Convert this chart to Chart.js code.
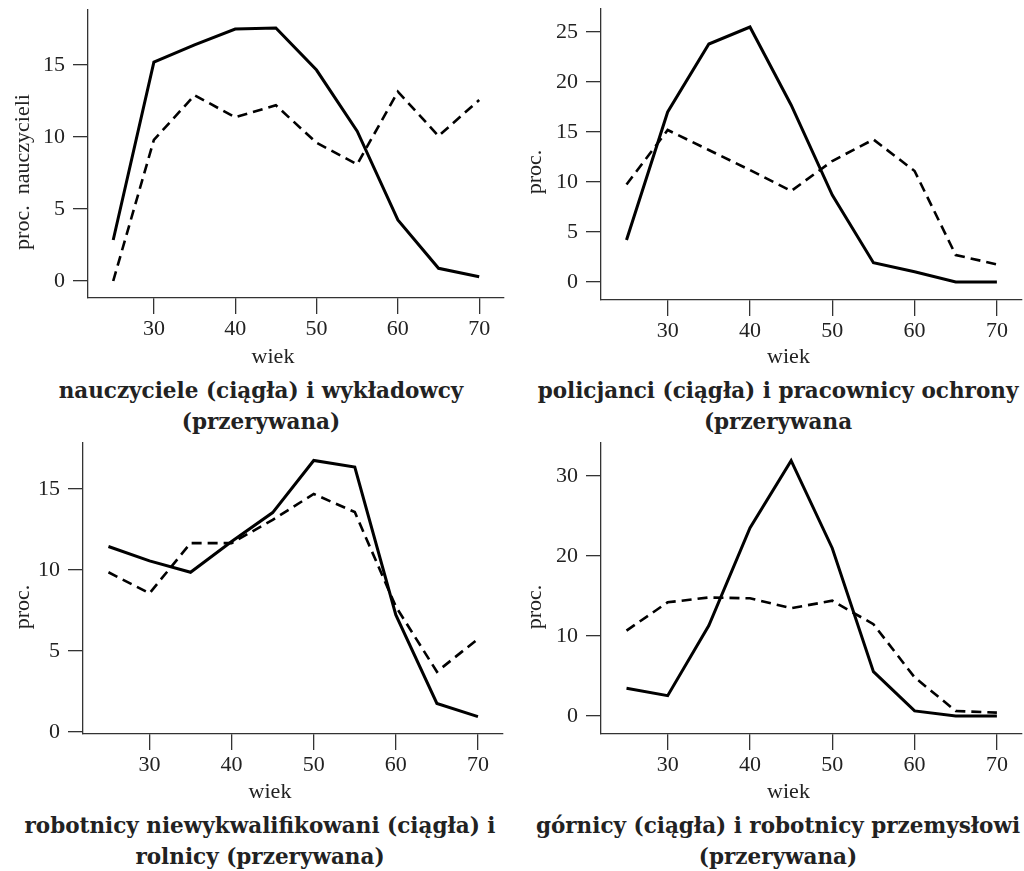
<!DOCTYPE html>
<html lang="pl">
  <head>
    <meta charset="UTF-8" />
    <title>Wiek w zawodach</title>
    <style>
      body { margin: 0; background: #fff; overflow: hidden; width: 1024px; height: 871px; }
      .panel { position: absolute; width: 512px; height: 435px; }
      .panel canvas { position: absolute; left: 0; top: 0; }
      .tytul {
        position: absolute; width: 512px; white-space: nowrap; text-align: center;
        font-family: "DejaVu Serif"; font-weight: bold; font-size: 21.5px; line-height: 31px; color: #222;
      }
    </style>
  </head>
  <body>
    <div class="panel" style="left:0;top:0">
      <canvas id="c1" width="512" height="370"></canvas>
      <div class="tytul" style="left:5px;top:375px">nauczyciele (ciągła) i wykładowcy<br>(przerywana)</div>
    </div>
    <div class="panel" style="left:512px;top:0">
      <canvas id="c2" width="512" height="370"></canvas>
      <div class="tytul" style="left:10px;top:375px">policjanci (ciągła) i pracownicy ochrony<br>(przerywana</div>
    </div>
    <div class="panel" style="left:0;top:435px">
      <canvas id="c3" width="512" height="370"></canvas>
      <div class="tytul" style="left:4px;top:375px">robotnicy niewykwalifikowani (ciągła) i<br>rolnicy (przerywana)</div>
    </div>
    <div class="panel" style="left:512px;top:435px">
      <canvas id="c4" width="512" height="370"></canvas>
      <div class="tytul" style="left:10px;top:375px">górnicy (ciągła) i robotnicy przemysłowi<br>(przerywana)</div>
    </div>

    <script src="https://cdn.jsdelivr.net/npm/chart.js@4.4.1/dist/chart.umd.min.js"></script>
    <script>
      const wiek = [25, 30, 35, 40, 45, 50, 55, 60, 65, 70];
      const xTicks = [30, 40, 50, 60, 70];

      // proc. w danej grupie wieku
      const nauczyciele = [2.85, 15.2, 16.4, 17.5, 17.57, 14.65, 10.4, 4.24, 0.88, 0.3];
      const wykladowcy = [0, 9.8, 12.9, 11.37, 12.2, 9.6, 8.1, 13.15, 10.07, 12.57];

      const policjanci = [4.2, 17.0, 23.8, 25.5, 17.7, 8.7, 1.93, 1.03, 0, 0];
      const ochrona = [9.75, 15.2, 13.2, 11.2, 9.1, 12.1, 14.25, 11.1, 2.7, 1.76];

      const niewykwalifikowani = [11.45, 10.56, 9.86, 11.76, 13.55, 16.77, 16.36, 7.22, 1.75, 0.93];
      const rolnicy = [9.86, 8.56, 11.66, 11.66, 13.1, 14.7, 13.58, 7.74, 3.71, 5.74];

      const gornicy = [3.46, 2.54, 11.3, 23.5, 31.9, 20.96, 5.54, 0.63, 0, 0];
      const przemyslowi = [10.67, 14.2, 14.8, 14.7, 13.46, 14.4, 11.46, 4.83, 0.63, 0.42];

      const yTicks1 = [0, 5, 10, 15];
      const yTicks2 = [0, 5, 10, 15, 20, 25];
      const yTicks3 = [0, 5, 10, 15];
      const yTicks4 = [0, 10, 20, 30];

      const czcionka = { family: "Liberation Serif", size: 22 };

      // podpisy osi rysowane recznie, bo sa przesuniete wzgledem srodka
      const podpisy = {
        id: "podpisy",
        afterDraw(chart, args, opts) {
          const ctx = chart.ctx;
          const a = chart.chartArea;
          ctx.save();
          ctx.font = '22px "Liberation Serif"';
          ctx.fillStyle = "#222";
          ctx.textAlign = "center";
          ctx.textBaseline = "middle";
          ctx.fillText("wiek", (a.left + a.right) / 2 - 23, 357);
          ctx.translate(23, 172);
          ctx.rotate(-Math.PI / 2);
          ctx.fillText(opts.proc, 0, 0);
          ctx.restore();
        },
      };

      function punkty(arr) {
        return wiek.map((w, i) => ({ x: w, y: arr[i] }));
      }

      function wykres(id, ciagla, przerywana, yMin, yMax, yTicks, obszar, opis) {
        const ctx = document.getElementById(id).getContext("2d");
        new Chart(ctx, {
          type: "line",
          data: {
            datasets: [
              { data: punkty(ciagla), borderColor: "#000", borderWidth: 3, pointRadius: 0 },
              { data: punkty(przerywana), borderColor: "#000", borderWidth: 2.6, borderDash: [10, 6], pointRadius: 0 },
            ],
          },
          options: {
            responsive: false,
            animation: false,
            layout: {
              padding: { left: 0, top: obszar.top, right: 512 - obszar.right, bottom: 370 - obszar.bottom - 60 },
            },
            plugins: {
              legend: { display: false },
              tooltip: { enabled: false },
              podpisy: { proc: opis },
            },
            scales: {
              x: {
                type: "linear",
                min: 21.9,
                max: 73.05,
                afterFit: (s) => { s.height = 60; s.paddingLeft = 0; s.paddingRight = 0; },
                afterBuildTicks: (s) => { s.ticks = xTicks.map((v) => ({ value: v })); },
                grid: { display: true, drawOnChartArea: false, tickLength: 16, color: "#333", lineWidth: 1.3 },
                border: { display: true, color: "#333", width: 1.3 },
                ticks: { font: czcionka, color: "#222", padding: 2, maxRotation: 0 },
              },
              y: {
                min: yMin,
                max: yMax,
                afterFit: (s) => { s.width = obszar.left; s.paddingTop = 0; s.paddingBottom = 0; },
                afterBuildTicks: (s) => { s.ticks = yTicks.map((v) => ({ value: v })); },
                grid: { display: true, drawOnChartArea: false, tickLength: 15, color: "#333", lineWidth: 1.3 },
                border: { display: true, color: "#333", width: 1.3 },
                ticks: { font: czcionka, color: "#222", padding: 8 },
              },
            },
          },
          plugins: [podpisy],
        });
      }

      wykres("c1", nauczyciele, wykladowcy, -1.18, 18.82, yTicks1, { left: 88, right: 504, top: 10, bottom: 298 }, "proc.\u2002nauczycieli");
      wykres("c2", policjanci, ochrona, -1.8, 27.3, yTicks2, { left: 89, right: 510, top: 9, bottom: 300 }, "proc.");
      wykres("c3", niewykwalifikowani, rolnicy, -0.14, 17.85, yTicks3, { left: 83, right: 503, top: 8, bottom: 299 }, "proc.");
      wykres("c4", gornicy, przemyslowi, -2.25, 34.1, yTicks4, { left: 89, right: 510, top: 8, bottom: 299 }, "proc.");
    </script>
  </body>
</html>
